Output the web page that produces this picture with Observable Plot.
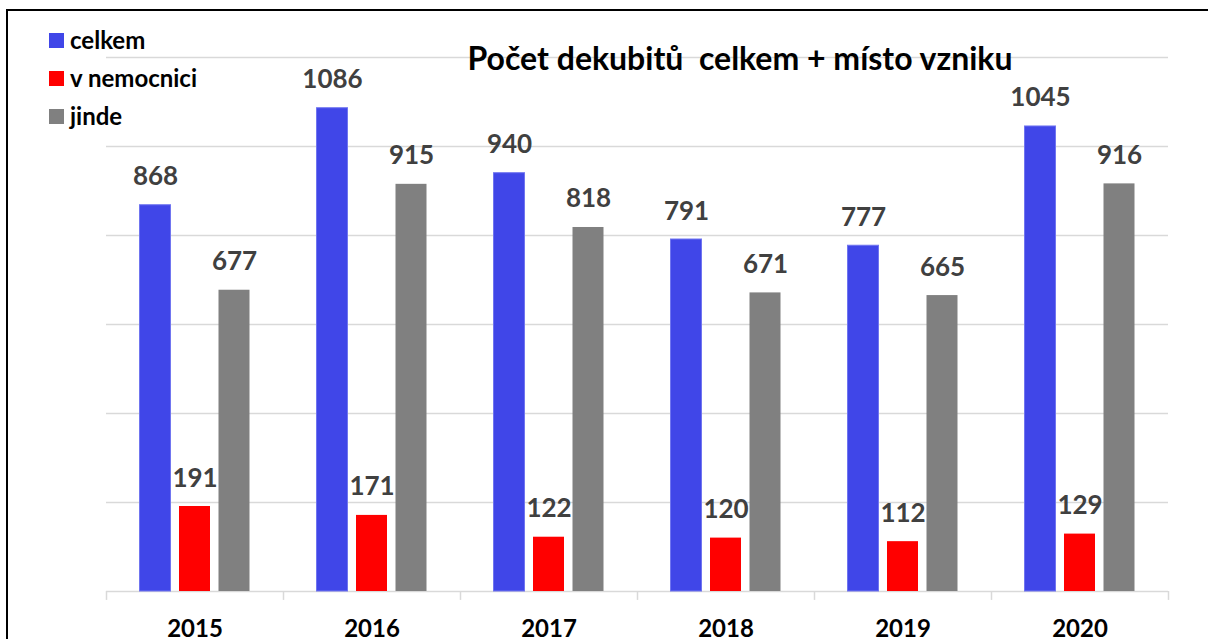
<!DOCTYPE html>
<html>
<head>
<meta charset="utf-8">
<script src="https://cdn.jsdelivr.net/npm/d3@7"></script>
<script src="https://cdn.jsdelivr.net/npm/@observablehq/plot@0.6"></script>
<style>
  html, body { margin: 0; padding: 0; background: #fff; }
  #wrap { position: relative; width: 1208px; height: 639px; overflow: hidden; font-family: Lato, "Open Sans", sans-serif; }
  #wrap svg { position: absolute; left: 0; top: 0; }
  #frame { position: absolute; left: 6px; top: 9px; width: 1300px; height: 800px; border-top: 2px solid #000; border-left: 2px solid #000; pointer-events: none; }
  #title { position: absolute; left: 0; width: 1480px; top: 38px; text-align: center; font-weight: 700; font-size: 32px; color: #000; white-space: pre; line-height: 40px; }
  .leg { position: absolute; left: 49px; font-weight: 700; font-size: 24px; color: #000; line-height: 16px; }
  .leg span.sw { position: absolute; left: 0; top: 0; width: 15px; height: 15px; }
  .leg span.tx { position: absolute; left: 21px; top: -6px; white-space: nowrap; line-height: 26px; }
</style>
</head>
<body>
<div id="wrap"></div>
<script>
const years = ["2015", "2016", "2017", "2018", "2019", "2020"];
const seriesNames = ["celkem", "v nemocnici", "jinde"];
const celkem = [868, 1086, 940, 791, 777, 1045];
const vNemocnici = [191, 171, 122, 120, 112, 129];
const jinde = [677, 915, 818, 671, 665, 916];
const yTicks = [200, 400, 600, 800, 1000, 1200];
const colors = ["#4046E8", "#FF0000", "#808080"];
const titleText = "Počet dekubitů  celkem + místo vzniku";

const seriesValues = [celkem, vNemocnici, jinde];
const offsets = [-39.5, 0, 39.5];
const rows = seriesValues.map(vals => years.map((y, i) => ({year: y, value: vals[i]})));

const bandInset = 73;
const marks = [
  Plot.ruleY(yTicks, {stroke: "#d9d9d9", strokeWidth: 1.5}),
  Plot.ruleY([0], {stroke: "#d9d9d9", strokeWidth: 1.5}),
  Plot.ruleX(years, {x: d => d, y1: 0, y2: -20, dx: -88.5, stroke: "#d9d9d9", strokeWidth: 1.5}),
  Plot.ruleX([years[years.length - 1]], {x: d => d, y1: 0, y2: -20, dx: 88.5, stroke: "#d9d9d9", strokeWidth: 1.5})
];
rows.forEach((data, k) => {
  marks.push(Plot.barY(data, {
    x: "year", y: "value", fill: colors[k], dx: offsets[k],
    insetLeft: bandInset, insetRight: bandInset,
    stroke: k === 0 ? "#7075f0" : "none", strokeWidth: 1
  }));
  marks.push(Plot.text(data, {
    x: "year", y: "value", text: d => String(d.value), dx: offsets[k], dy: -20,
    lineAnchor: "bottom", fill: "#404040", fontSize: 26, fontWeight: 700
  }));
});
marks.push(Plot.axisX({tickSize: 0, tickPadding: 28, fontSize: 24, fontWeight: 700, color: "#000", label: null}));

const chart = Plot.plot({
  width: 1208,
  height: 639,
  marginLeft: 106,
  marginRight: 40,
  marginTop: 57,
  marginBottom: 48,
  style: {fontFamily: "Lato, 'Open Sans', sans-serif", background: "#fff", overflow: "visible"},
  x: {domain: years, padding: 0, axis: null},
  y: {domain: [0, 1200], axis: null},
  marks
});

const wrap = document.getElementById("wrap");
wrap.appendChild(chart);

const frame = document.createElement("div");
frame.id = "frame";
wrap.appendChild(frame);

const title = document.createElement("div");
title.id = "title";
title.textContent = titleText;
wrap.appendChild(title);

seriesNames.forEach((name, i) => {
  const row = document.createElement("div");
  row.className = "leg";
  row.style.top = (33 + 38 * i) + "px";
  const sw = document.createElement("span");
  sw.className = "sw";
  sw.style.background = colors[i];
  const tx = document.createElement("span");
  tx.className = "tx";
  tx.textContent = name;
  row.appendChild(sw);
  row.appendChild(tx);
  wrap.appendChild(row);
});
</script>
</body>
</html>
